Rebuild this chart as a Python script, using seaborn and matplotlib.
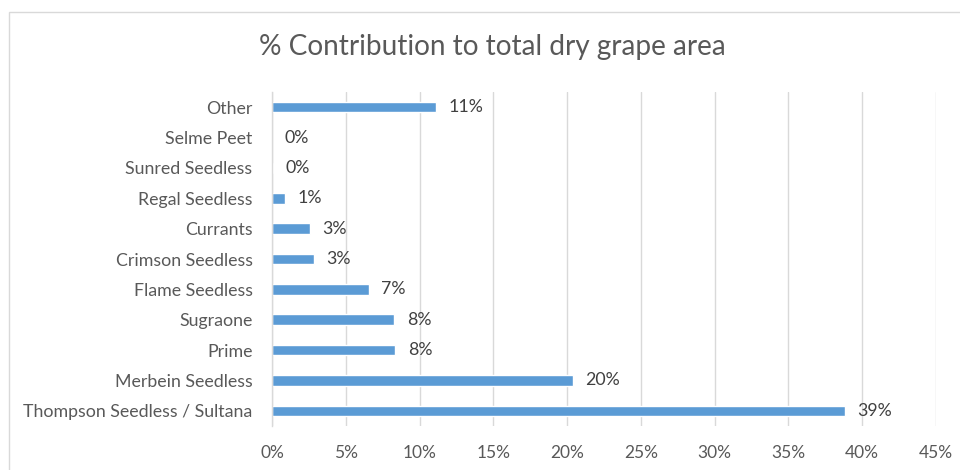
import matplotlib
matplotlib.use("Agg")
import matplotlib.pyplot as plt
import seaborn as sns
import pandas as pd
from matplotlib.patches import Rectangle
from matplotlib.ticker import FuncFormatter, MultipleLocator

categories = ["Other", "Selme Peet", "Sunred Seedless", "Regal Seedless", "Currants",
              "Crimson Seedless", "Flame Seedless", "Sugraone", "Prime",
              "Merbein Seedless", "Thompson Seedless / Sultana"]
values = [11.1, 0.02, 0.08, 0.85, 2.55, 2.85, 6.55, 8.3, 8.35, 20.4, 38.8]
title = "% Contribution to total dry grape area"

df = pd.DataFrame({"variety": categories, "pct": values})

sns.set_theme(style="white")
plt.rcParams["font.family"] = ["Lato", "DejaVu Sans"]
text_color = "#595959"
grid_color = "#d9d9d9"
bar_color = "#5B9BD5"

fig = plt.figure(figsize=(9.6, 4.7), dpi=100)
ax = fig.add_axes([272/960, 1-426/470, (936-272)/960, (426-92)/470])

sns.barplot(data=df, y="variety", x="pct", order=categories, orient="h",
            color=bar_color, saturation=1, width=0.35, ax=ax)

ax.set_xlim(0, 45)
ax.xaxis.set_major_locator(MultipleLocator(5))
ax.xaxis.set_major_formatter(FuncFormatter(lambda v, p: f"{v:.0f}%"))
ax.grid(axis="x", color=grid_color, linewidth=1)
ax.set_axisbelow(True)
for s in ["top", "right", "bottom"]:
    ax.spines[s].set_visible(False)
ax.spines["left"].set_color(grid_color)
ax.spines["left"].set_linewidth(1)
ax.set_xlabel("")
ax.set_ylabel("")
ax.tick_params(axis="both", length=0, labelcolor=text_color)
ax.tick_params(axis="y", pad=14, labelsize=12.8)
ax.tick_params(axis="x", pad=14, labelsize=12.5)

for i, v in enumerate(values):
    ax.annotate(f"{round(v):.0f}%", xy=(v, i), xytext=(9, 0), textcoords="offset points",
                va="center", ha="left", fontsize=12.8, color="#404040")

fig.text(492/960, 1-47/470, title, ha="center", va="center", fontsize=20.2, color=text_color)

fig.add_artist(Rectangle((9/960, -0.05), 1.2, 1-12/470+0.05, transform=fig.transFigure,
                         facecolor="none", edgecolor=grid_color, linewidth=1))

fig.savefig("out.png", dpi=100)
